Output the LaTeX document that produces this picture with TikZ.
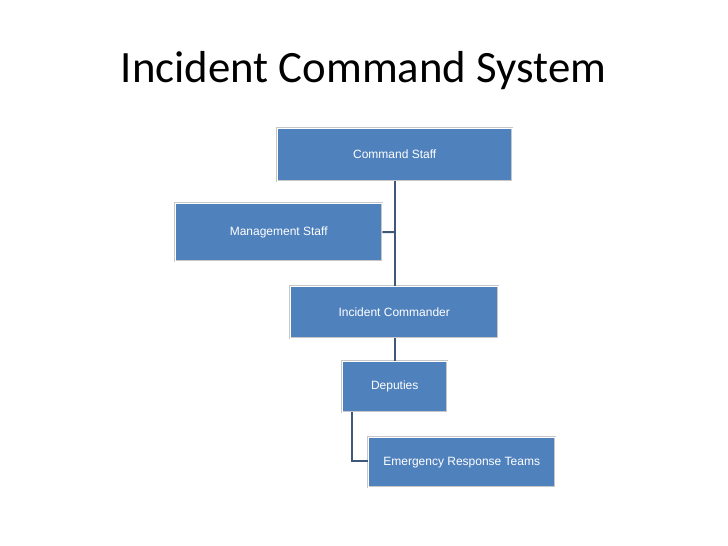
\documentclass[tikz,border=0pt]{standalone}
\usepackage{fontspec}
\setmainfont{Liberation Sans}
\newfontfamily\titlefont{Carlito}
\definecolor{boxblue}{RGB}{79,129,189}
\definecolor{linkcol}{RGB}{62,88,122}
\begin{document}
\begin{tikzpicture}[x=1pt,y=-1pt,
  orgbox/.style={draw=black!22, double=white, double distance=1.4pt, fill=boxblue,
    text=white, font=\fontsize{12}{14}\selectfont, inner sep=0pt, anchor=north west},
  link/.style={draw=linkcol, line width=2pt}]
\useasboundingbox[fill=white] (0,0) rectangle (728,546);
\node[font=\titlefont\fontsize{44.8}{52}\selectfont, text=black] (title) at (363.5,71) {Incident Command System};
\node[orgbox, minimum width=235pt, minimum height=53pt] (cmd) at (277,128) {Command Staff};
\node[orgbox, minimum width=207pt, minimum height=58pt] (mgmt) at (175,203) {Management Staff};
\node[orgbox, minimum width=208pt, minimum height=52pt] (ic) at (290,286) {Incident Commander};
\node[orgbox, minimum width=105pt, minimum height=51pt] (dep) at (342,361) {Deputies};
\node[orgbox, minimum width=187pt, minimum height=50pt] (ert) at (368,437) {Emergency Response Teams};
\coordinate (j1) at (395,232);
\coordinate (c1) at (352,461);
\draw[link] (cmd.south -| j1) -- (ic.north -| j1);
\draw[link] (mgmt.east) -- (j1);
\draw[link] (ic.south -| j1) -- (dep.north -| j1);
\draw[link] (dep.south -| c1) -- (c1) -- (ert.west |- c1);
\end{tikzpicture}
\end{document}
